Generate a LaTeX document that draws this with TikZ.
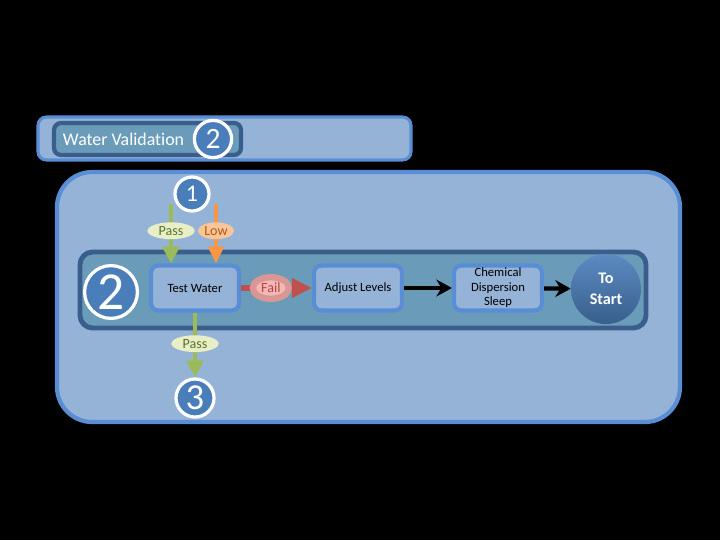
\documentclass[tikz,border=0pt]{standalone}
\usepackage{fontspec}
\setmainfont[Ligatures=NoCommon]{Carlito}
\usetikzlibrary{arrows.meta,shapes.geometric}
\definecolor{panelfill}{HTML}{95B3D7}
\definecolor{paneledge}{HTML}{5A8ED4}
\definecolor{bandfill}{HTML}{6A9CBA}
\definecolor{bandedge}{HTML}{3A5E8C}
\definecolor{markfill}{HTML}{4A7EBB}
\definecolor{passcol}{HTML}{9BBB59}
\definecolor{passfill}{HTML}{E8EFC6}
\definecolor{passtext}{HTML}{5C7330}
\definecolor{lowcol}{HTML}{F79646}
\definecolor{lowfill}{HTML}{FAC698}
\definecolor{lowtext}{HTML}{B45A14}
\definecolor{failcol}{HTML}{C0504D}
\definecolor{failfill}{HTML}{F2B8B6}
\definecolor{failtext}{HTML}{B84440}
\tikzset{
  stepbox/.style={rectangle, rounded corners=5pt, draw=paneledge, line width=3pt,
    fill=panelfill, minimum width=2.2cm, minimum height=1.12cm, inner sep=1pt,
    align=center, font=\fontsize{9}{10.3}\selectfont},
  marker/.style={circle, draw=white, line width=2.3pt, fill=markfill,
    text=white, inner sep=0pt},
  tag/.style={ellipse, inner sep=0pt, minimum height=0.42cm, font=\fontsize{10}{10}\selectfont},
  passarrow/.style={draw=passcol, line width=3.2pt, -{Triangle[width=12pt,length=12pt]}},
  lowarrow/.style={draw=lowcol, line width=3.2pt, -{Triangle[width=11pt,length=12pt]}},
  failarrow/.style={draw=failcol, line width=4.5pt, -{Triangle[width=13pt,length=14pt]}},
  flowarrow/.style={draw=black, line width=3pt, -{Stealth[width=12pt,length=11pt]}},
}
\begin{document}
\begin{tikzpicture}[x=0.025cm, y=-0.025cm]
  % Background
  \fill[black] (0,0) rectangle (720,540);
  \useasboundingbox (0,0) rectangle (720,540);
  % Title bar
  \draw[paneledge, fill=panelfill, line width=2.2pt, rounded corners=6pt] (38,117) rectangle (411,160);
  \draw[bandedge, fill=bandfill, line width=3pt, rounded corners=5pt] (54,123) rectangle (241,155);
  \node[anchor=west, text=white, font=\fontsize{12.7}{14}\selectfont] (title) at (58,139) {Water Validation};
  \node[marker, minimum size=0.93cm, font=\fontsize{21}{21}\selectfont] (tmark) at (213,139) {2};
  % Panel and band
  \draw[paneledge, fill=panelfill, line width=3pt, rounded corners=25pt] (57,172) rectangle (680,422);
  \draw[bandedge, fill=bandfill, line width=3.5pt, rounded corners=9pt] (80,252) rectangle (646,328);
  % Steps
  \node[stepbox] (test) at (195,288) {Test Water};
  \node[stepbox] (adjust) at (358,288) {Adjust Levels};
  \node[stepbox] (chem) at (498,288) {Chemical\\Dispersion\\Sleep};
  \node[circle, top color=markfill!90!white, bottom color=markfill!75!black, minimum size=1.75cm,
    inner sep=0pt, align=center, text=white, font=\bfseries\fontsize{11.5}{14.5}\selectfont] (start) at (606,289) {To\\Start};
  \node[marker, minimum size=1.32cm, font=\fontsize{38}{38}\selectfont] (two) at (111,292) {2};
  % Incoming arrows
  \coordinate (passin) at (171,204);
  \coordinate (lowin) at (216,204);
  \draw[passarrow] (passin) -- (passin |- test.north)
    node[tag, pos=0.45, fill=passfill, minimum width=1.18cm, text=passtext] (passup) {Pass};
  \draw[lowarrow] (lowin) -- (lowin |- test.north)
    node[tag, pos=0.45, fill=lowfill, minimum width=0.9cm, text=lowtext] (low) {Low};
  \node[marker, minimum size=0.85cm, font=\fontsize{17}{17}\selectfont] (one) at (192,194) {1};
  % Flow arrows
  \draw[failarrow] (test) -- (adjust)
    node[tag, pos=0.42, fill=failfill, draw=failcol!60, minimum width=0.9cm, minimum height=0.54cm, text=failtext] (fail) {Fail};
  \draw[flowarrow] (adjust) -- (chem);
  \draw[flowarrow] (chem) -- (start);
  % Outgoing arrow
  \node[marker, minimum size=0.95cm, font=\fontsize{26}{26}\selectfont] (three) at (195,398) {3};
  \draw[passarrow] (test) -- (three)
    node[tag, pos=0.48, fill=passfill, minimum width=1.18cm, text=passtext] (passdown) {Pass};
\end{tikzpicture}
\end{document}
